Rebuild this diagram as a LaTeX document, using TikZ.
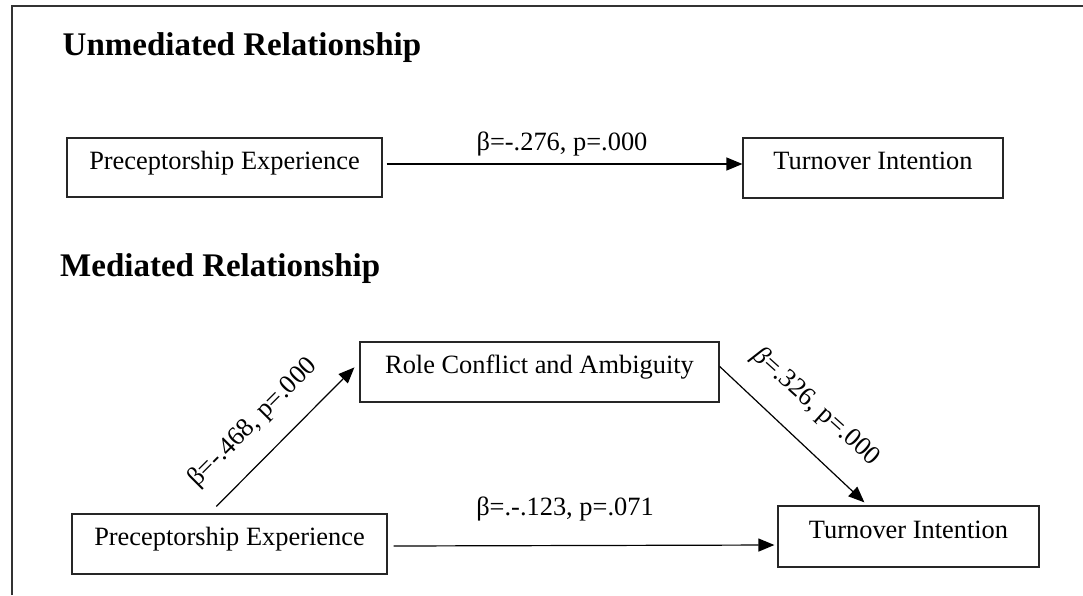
\documentclass[tikz,border=0pt]{standalone}
\usepackage{fontspec}
\setmainfont{Liberation Serif}
\usetikzlibrary{arrows.meta}
\begin{document}
\begin{tikzpicture}[x=1pt,y=-1pt,
  varbox/.style={draw=black!85, line width=1.2pt, inner sep=0pt,
    text height=0.7em, text depth=0.35em,
    font=\fontsize{26.4}{30}\selectfont},
  heading/.style={inner sep=0pt, anchor=base west,
    font=\fontsize{33}{38}\selectfont\bfseries},
  coef/.style={inner sep=0pt, font=\fontsize{26.4}{30}\selectfont},
  path/.style={draw=black, line width=1.2pt,
    -{Triangle[length=16pt,width=13pt]}}]
\useasboundingbox (0,0) rectangle (1083,595);

% panel frame (top and left edges)
\draw[black!80, line width=1.6pt] (12,595) -- (12,6) -- (1083,6);

% unmediated model
\node[heading] (h1) at (62.5,55) {Unmediated Relationship};
\node[varbox, minimum width=315pt, minimum height=59pt] (pe1) at (224.5,167.5) {Preceptorship Experience};
\node[varbox, minimum width=260pt, minimum height=60pt] (ti1) at (873,168) {Turnover Intention};
\draw[path] ([xshift=4pt,yshift=3.5pt]pe1.east) -- ([yshift=4pt]ti1.west);
\node[coef, anchor=base] (c1) at (562,150) {β=-.276, p=.000};

% mediated model
\node[heading] (h2) at (60,276.7) {Mediated Relationship};
\node[varbox, minimum width=359pt, minimum height=60pt] (rca) at (539.5,372) {Role Conflict and Ambiguity};
\node[varbox, minimum width=315pt, minimum height=60pt] (pe2) at (229.5,544) {Preceptorship Experience};
\node[varbox, minimum width=261pt, minimum height=61pt] (ti2) at (908.5,536.5) {Turnover Intention};

\draw[path] ([xshift=145pt,yshift=7pt]pe2.north west) -- ([xshift=-5pt,yshift=-26pt]rca.north west);
\draw[path] ([yshift=-25pt]rca.north east) -- ([xshift=87pt,yshift=3pt]ti2.north west);
\draw[path] ([xshift=6pt,yshift=-2pt]pe2.east) -- ([xshift=-3pt,yshift=-8.5pt]ti2.west);

\node[coef, rotate=45] (c2) at (253,423) {β=-.468, p=.000};
\node[coef, rotate=-42] (c3) at (816,407) {\textit{β}=.326, p=.000};
\node[coef, anchor=base] (c4) at (565,515) {β=.-.123, p=.071};
\end{tikzpicture}
\end{document}
